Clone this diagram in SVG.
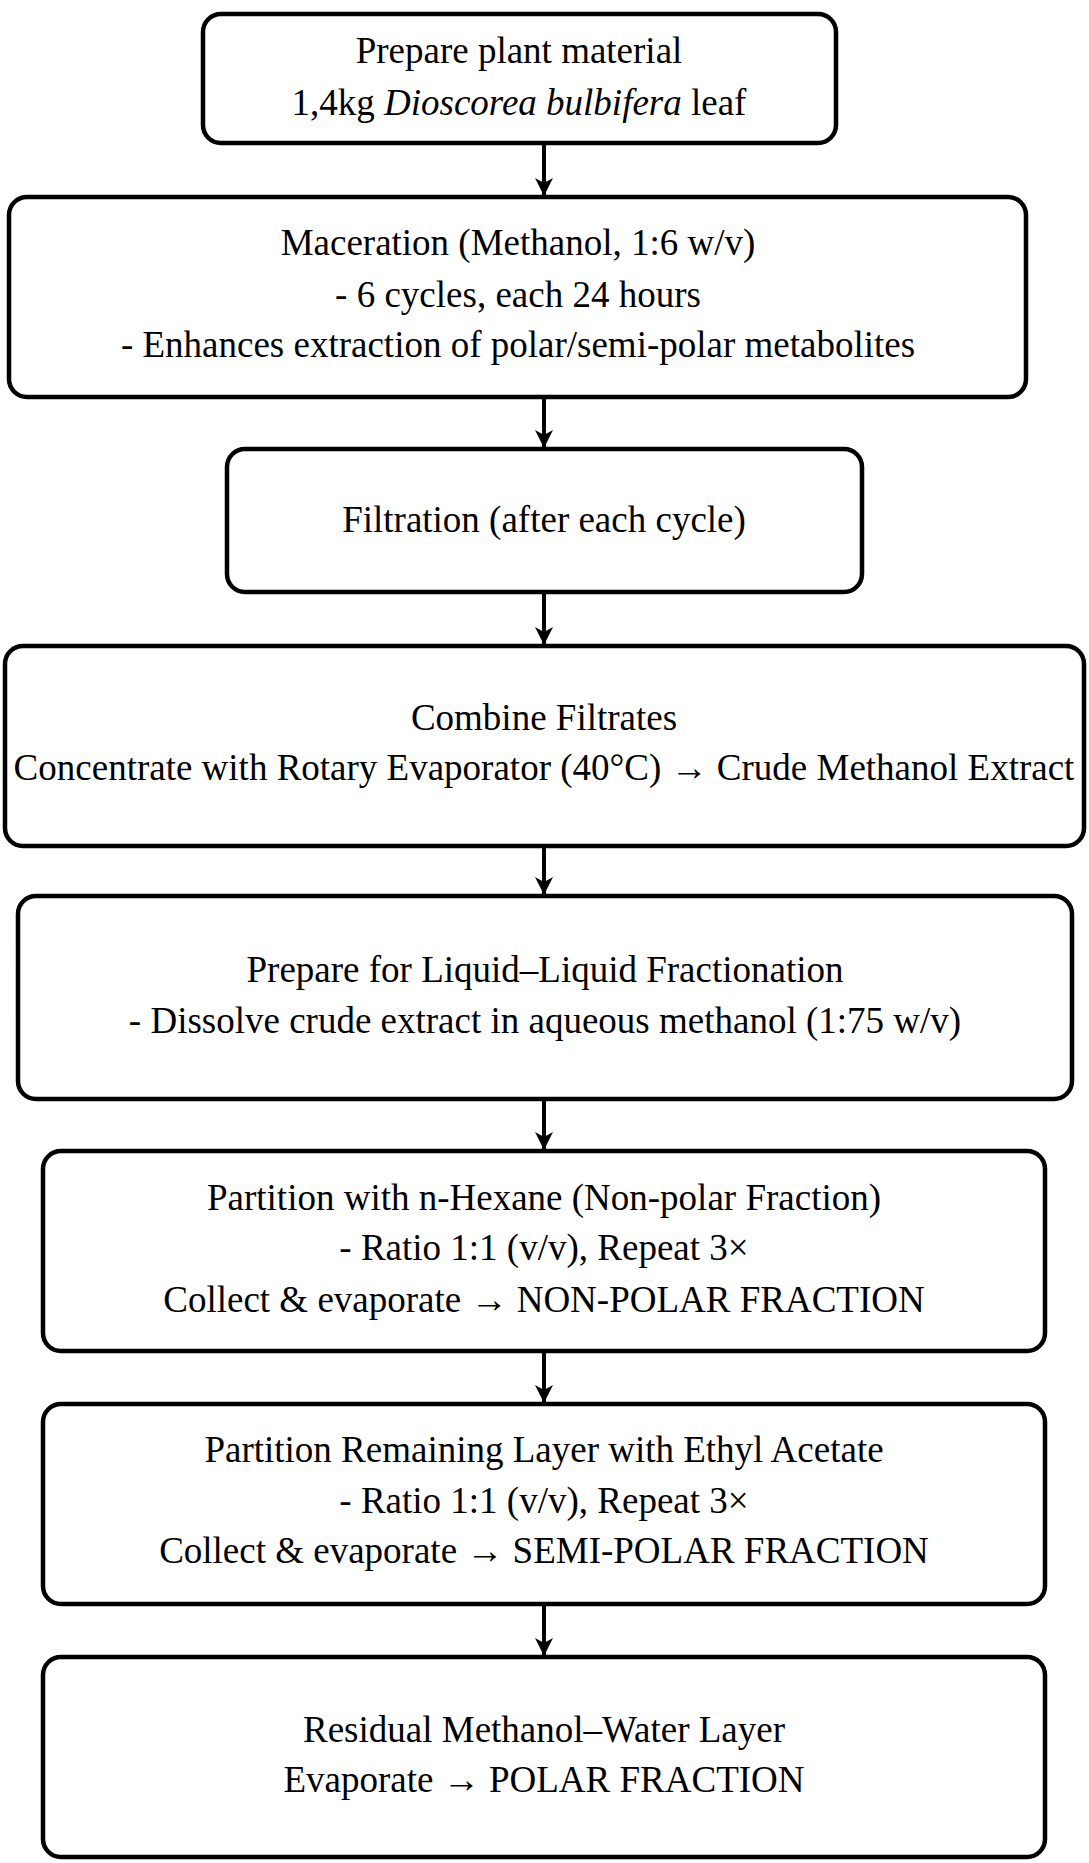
<svg xmlns="http://www.w3.org/2000/svg" width="1089" height="1863" viewBox="0 0 1089 1863">
<defs>
<style>
.box{fill:#fff;stroke:#000;stroke-width:4.5}
.t{font-family:"Liberation Serif","Times New Roman",serif;font-size:37px;fill:#000;text-anchor:middle}
.c{stroke:#000;stroke-width:4;fill:none}
</style>
<marker id="ah" viewBox="0 0 18 20" refX="17" refY="10" markerWidth="18" markerHeight="20" markerUnits="userSpaceOnUse" orient="auto">
<path d="M0,1 L18,10 L0,19 L5,10 Z" fill="#000"/>
</marker>
</defs>
<rect width="1089" height="1863" fill="#fff"/>
<g id="connectors">
<line class="c" x1="544" y1="143" x2="544" y2="195" marker-end="url(#ah)"/>
<line class="c" x1="544" y1="397" x2="544" y2="447" marker-end="url(#ah)"/>
<line class="c" x1="544" y1="592" x2="544" y2="644" marker-end="url(#ah)"/>
<line class="c" x1="544" y1="846" x2="544" y2="894" marker-end="url(#ah)"/>
<line class="c" x1="544" y1="1099" x2="544" y2="1149" marker-end="url(#ah)"/>
<line class="c" x1="544" y1="1351" x2="544" y2="1402" marker-end="url(#ah)"/>
<line class="c" x1="544" y1="1604" x2="544" y2="1655" marker-end="url(#ah)"/>
</g>
<g id="n1">
<rect class="box" x="203" y="14" width="633" height="129" rx="18"/>
<text class="t" x="519" y="63">Prepare plant material</text>
<text class="t" x="519" y="115">1,4kg <tspan font-style="italic">Dioscorea bulbifera</tspan> leaf</text>
</g>
<g id="n2">
<rect class="box" x="9" y="197" width="1017" height="200" rx="18"/>
<text class="t" x="518" y="255">Maceration (Methanol, 1:6 w/v)</text>
<text class="t" x="518" y="307">- 6 cycles, each 24 hours</text>
<text class="t" x="518" y="357">- Enhances extraction of polar/semi-polar metabolites</text>
</g>
<g id="n3">
<rect class="box" x="227" y="449" width="635" height="143" rx="18"/>
<text class="t" x="544" y="532">Filtration (after each cycle)</text>
</g>
<g id="n4">
<rect class="box" x="5" y="646" width="1079" height="200" rx="18"/>
<text class="t" x="544" y="730">Combine Filtrates</text>
<text class="t" x="544" y="780">Concentrate with Rotary Evaporator (40°C) → Crude Methanol Extract</text>
</g>
<g id="n5">
<rect class="box" x="18" y="896" width="1054" height="203" rx="18"/>
<text class="t" x="545" y="982">Prepare for Liquid–Liquid Fractionation</text>
<text class="t" x="545" y="1033">- Dissolve crude extract in aqueous methanol (1:75 w/v)</text>
</g>
<g id="n6">
<rect class="box" x="43" y="1151" width="1002" height="200" rx="18"/>
<text class="t" x="544" y="1210">Partition with n-Hexane (Non-polar Fraction)</text>
<text class="t" x="544" y="1260">- Ratio 1:1 (v/v), Repeat 3×</text>
<text class="t" x="544" y="1312">Collect &amp; evaporate → NON-POLAR FRACTION</text>
</g>
<g id="n7">
<rect class="box" x="43" y="1404" width="1002" height="200" rx="18"/>
<text class="t" x="544" y="1462">Partition Remaining Layer with Ethyl Acetate</text>
<text class="t" x="544" y="1513">- Ratio 1:1 (v/v), Repeat 3×</text>
<text class="t" x="544" y="1563">Collect &amp; evaporate → SEMI-POLAR FRACTION</text>
</g>
<g id="n8">
<rect class="box" x="43" y="1657" width="1002" height="200" rx="18"/>
<text class="t" x="544" y="1742">Residual Methanol–Water Layer</text>
<text class="t" x="544" y="1792">Evaporate → POLAR FRACTION</text>
</g>
</svg>
